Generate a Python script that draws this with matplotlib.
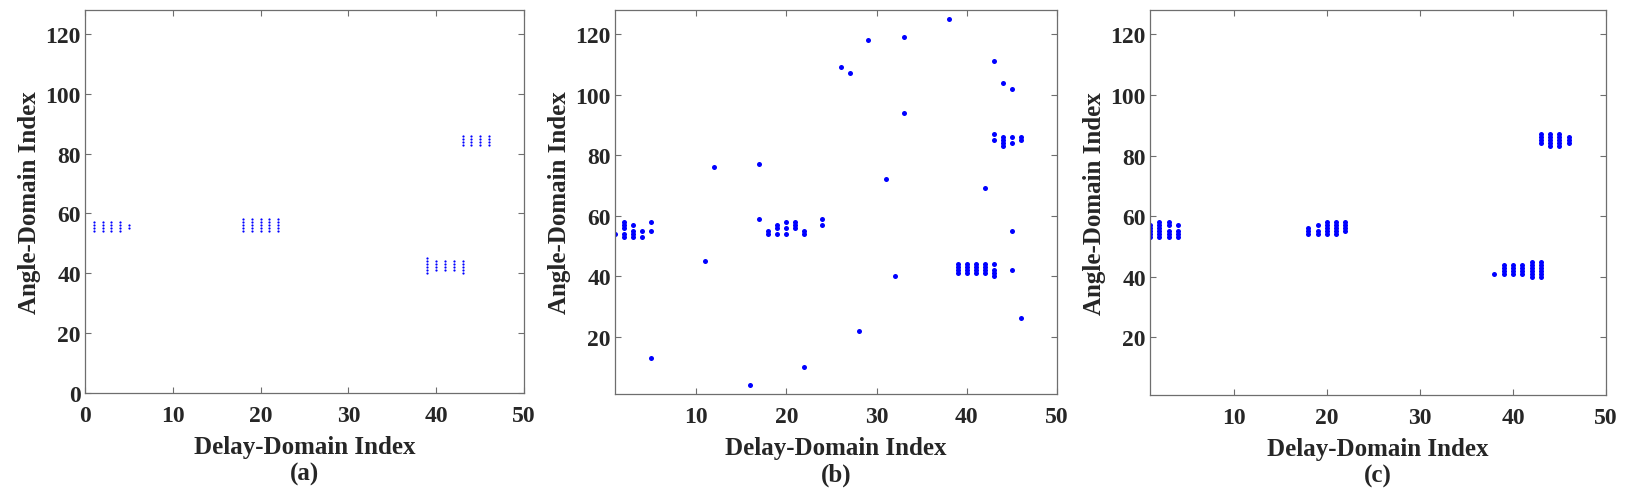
import matplotlib
matplotlib.use("Agg")
import matplotlib.pyplot as plt

# -----------------------------
# Data: (delay index, [angle indices]) per column
# -----------------------------
cols_a = [
    (1, [54, 55, 56, 57]), (2, [54, 55, 56, 57]), (3, [54, 55, 56, 57]),
    (4, [54, 55, 56, 57]), (5, [55, 56]),
    (18, [54, 55, 56, 57, 58]), (19, [54, 55, 56, 57, 58]), (20, [54, 55, 56, 57, 58]),
    (21, [54, 55, 56, 57, 58]), (22, [54, 55, 56, 57, 58]),
    (39, [40, 41, 42, 43, 44, 45]), (40, [41, 42, 43, 44]), (41, [41, 42, 43, 44]),
    (42, [41, 42, 43, 44]), (43, [40, 41, 42, 43, 44]),
    (43, [83, 84, 85, 86]), (44, [83, 84, 85, 86]), (45, [83, 84, 85, 86]),
    (46, [83, 84, 85, 86]),
]

cols_b = [
    (1, [54]), (2, [53, 54, 56, 57, 58]), (3, [53, 54, 55, 57]), (4, [53, 55]),
    (5, [13, 55, 58]), (11, [45]), (12, [76]), (16, [4]), (17, [59, 77]),
    (18, [54, 55]), (19, [54, 56, 57]), (20, [54, 56, 58]), (21, [56, 57, 58]),
    (22, [10, 54, 55]), (24, [57, 59]), (26, [109]), (27, [107]), (28, [22]),
    (29, [118]), (31, [72]), (32, [40]), (33, [94, 119]), (38, [125]),
    (39, [41, 42, 43, 44]), (40, [41, 42, 43, 44]), (41, [41, 42, 43, 44]),
    (42, [41, 42, 43, 44, 69]), (43, [40, 41, 42, 44, 85, 87, 111]),
    (44, [83, 84, 85, 86, 104]), (45, [42, 55, 84, 86, 102]), (46, [26, 85, 86]),
]

cols_c = [
    (1, [53, 54, 55, 56, 57]), (2, [53, 54, 55, 56, 57, 58]), (3, [53, 54, 55, 57, 58]),
    (4, [53, 54, 55, 57]),
    (18, [54, 55, 56]), (19, [54, 55, 57]), (20, [54, 55, 56, 57, 58]),
    (21, [54, 55, 56, 57, 58]), (22, [55, 56, 57, 58]),
    (38, [41]), (39, [41, 42, 43, 44]), (40, [41, 42, 43, 44]), (41, [41, 42, 43, 44]),
    (42, [40, 41, 42, 43, 44, 45]), (43, [40, 41, 42, 43, 44, 45]),
    (43, [84, 85, 86, 87]), (44, [83, 84, 85, 86, 87]), (45, [83, 84, 85, 86, 87]),
    (46, [84, 85, 86]),
]

x_label = "Delay-Domain Index"
y_label = "Angle-Domain Index"
panel_tags = ["(a)", "(b)", "(c)"]


def expand(cols):
    xs, ys = [], []
    for x, yl in cols:
        for y in yl:
            xs.append(x)
            ys.append(y)
    return xs, ys


def main():
    plt.rcParams["font.family"] = ["Liberation Serif", "DejaVu Serif"]
    plt.rcParams["font.weight"] = "bold"

    W, H = 1627, 502
    fig = plt.figure(figsize=(W / 100, H / 100), dpi=100)

    # axes boxes in pixels: left, right, top, bottom
    boxes = [(85, 524, 11, 394), (615, 1057, 11, 395), (1150, 1606, 11, 396)]
    axes = []
    for l, r, t, b in boxes:
        axes.append(fig.add_axes([l / W, 1 - b / H, (r - l) / W, (b - t) / H]))

    text_col = "#262626"
    spine_col = "#6e6e6e"

    settings = [
        (cols_a, (0, 50), (0, 128), [0, 10, 20, 30, 40, 50], [0, 20, 40, 60, 80, 100, 120], 1.6),
        (cols_b, (1, 50), (1, 128), [10, 20, 30, 40, 50], [20, 40, 60, 80, 100, 120], 3.6),
        (cols_c, (1, 50), (1, 128), [10, 20, 30, 40, 50], [20, 40, 60, 80, 100, 120], 3.6),
    ]

    for ax, (cols, xl, yl, xt, yt, ms), tag in zip(axes, settings, panel_tags):
        xs, ys = expand(cols)
        ax.plot(xs, ys, linestyle="none", marker="o", markersize=ms,
                markerfacecolor="#0000ff", markeredgecolor="none")
        ax.set_xlim(*xl)
        ax.set_ylim(*yl)
        ax.set_xticks(xt)
        ax.set_yticks(yt)
        ax.tick_params(direction="in", length=4.5, width=0.8, colors=spine_col,
                       labelcolor=text_col, labelsize=17, top=True, right=True)
        ax.tick_params(axis="x", pad=9)
        ax.tick_params(axis="y", pad=3)
        for s in ax.spines.values():
            s.set_color(spine_col)
            s.set_linewidth(0.9)
        ax.set_xlabel(x_label + "\n" + tag, fontsize=18, color=text_col,
                      fontweight="bold", linespacing=1.2, labelpad=6)
        ax.set_ylabel(y_label, fontsize=18, color=text_col, fontweight="bold",
                      labelpad=3)

    fig.savefig("out.png", dpi=100, facecolor="white")


if __name__ == "__main__":
    main()
